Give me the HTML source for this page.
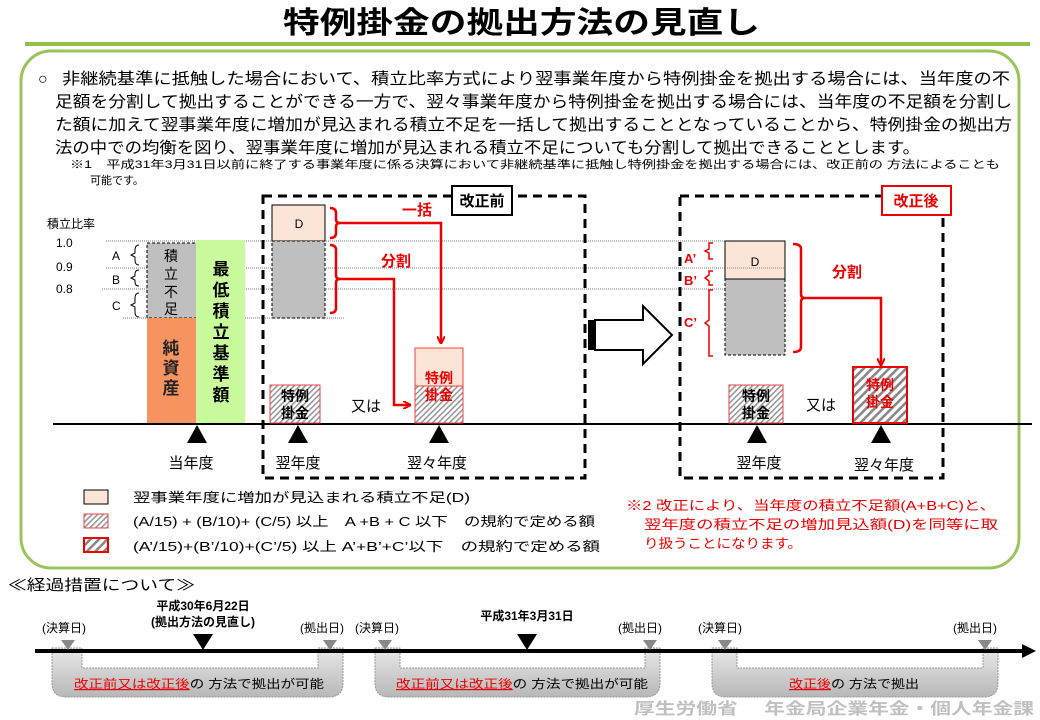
<!DOCTYPE html>
<html><head><meta charset="utf-8"><style>
html,body{margin:0;padding:0;background:#fff}
svg{display:block;font-family:"Liberation Sans","Noto Sans CJK JP",sans-serif}
</style></head><body>
<svg width="1040" height="720" viewBox="0 0 1040 720" xmlns="http://www.w3.org/2000/svg">
<defs>
<pattern id="h1" width="4" height="4" patternUnits="userSpaceOnUse" patternTransform="rotate(45)">
<rect width="4" height="4" fill="#fff"/><rect width="1.6" height="4" fill="#999"/></pattern>
<pattern id="h2" width="6" height="6" patternUnits="userSpaceOnUse" patternTransform="rotate(45)">
<rect width="6" height="6" fill="#fff"/><rect width="2.6" height="6" fill="#888"/></pattern>
<linearGradient id="gg" x1="0" y1="0" x2="0" y2="1"><stop offset="0" stop-color="#e8e8e8"/><stop offset="1" stop-color="#b8b8b8"/></linearGradient>
<marker id="ar" markerWidth="8" markerHeight="8" refX="7" refY="4" orient="auto" markerUnits="userSpaceOnUse"><path d="M0,0 L8,4 L0,8" fill="none" stroke="#e00" stroke-width="2"/></marker>
</defs>

<text x="283" y="33" font-size="30" font-weight="bold" textLength="477" lengthAdjust="spacingAndGlyphs">特例掛金の拠出方法の見直し</text>
<rect x="25" y="42" width="1005" height="4" fill="#92c04a"/>
<rect x="21" y="51" width="998" height="517" rx="30" fill="none" stroke="#9bc35a" stroke-width="3"/>

<g font-size="16">
<text x="38" y="84">○</text>
<text x="62" y="84" textLength="948" lengthAdjust="spacingAndGlyphs">非継続基準に抵触した場合において、積立比率方式により翌事業年度から特例掛金を拠出する場合には、当年度の不</text>
<text x="55" y="107" textLength="957" lengthAdjust="spacingAndGlyphs">足額を分割して拠出することができる一方で、翌々事業年度から特例掛金を拠出する場合には、当年度の不足額を分割し</text>
<text x="55" y="130" textLength="957" lengthAdjust="spacingAndGlyphs">た額に加えて翌事業年度に増加が見込まれる積立不足を一括して拠出することとなっていることから、特例掛金の拠出方</text>
<text x="55" y="153" textLength="865" lengthAdjust="spacingAndGlyphs">法の中での均衡を図り、翌事業年度に増加が見込まれる積立不足についても分割して拠出できることとします。</text>
</g>
<text x="70" y="168" font-size="11" textLength="930" lengthAdjust="spacingAndGlyphs">※1　平成31年3月31日以前に終了する事業年度に係る決算において非継続基準に抵触し特例掛金を拠出する場合には、改正前の 方法によることも</text>
<text x="90" y="184" font-size="11">可能です。</text>

<g stroke="#777" stroke-width="1" stroke-dasharray="1,1">
<line x1="106" y1="241" x2="725" y2="241"/>
<line x1="106" y1="268" x2="725" y2="268"/>
<line x1="102" y1="289" x2="725" y2="289"/>
<line x1="123" y1="318" x2="345" y2="318"/>
</g>

<text x="47" y="228" font-size="12">積立比率</text>
<text x="56" y="247" font-size="12">1.0</text>
<text x="56" y="271" font-size="12">0.9</text>
<text x="56" y="293" font-size="12">0.8</text>
<g font-size="12"><text x="112" y="260">A</text><text x="112" y="284">B</text><text x="112" y="310">C</text></g>
<g fill="none" stroke="#000" stroke-width="1">
<path d="M139,245 q-4,0 -4,5 v3 l-4,2 l4,2 v3 q0,5 4,5"/>
<path d="M139,270 q-4,0 -4,4 v2 l-4,2 l4,2 v2 q0,4 4,4"/>
<path d="M139,293 q-4,0 -4,5 v5 l-4,2 l4,2 v5 q0,5 4,5"/>
</g>

<rect x="147" y="243" width="50" height="75" fill="#bfbfbf" stroke="#000" stroke-dasharray="3,2"/>
<rect x="147" y="318" width="49" height="105" fill="#f79361"/>
<rect x="196" y="240" width="49" height="183" fill="#c9fa9c"/>
<g font-size="14" text-anchor="middle"><text x="171" y="261">積</text><text x="171" y="279">立</text><text x="171" y="297">不</text><text x="171" y="314">足</text></g>
<g font-size="17" font-weight="bold" text-anchor="middle" fill="#222"><text x="171" y="354">純</text><text x="171" y="374">資</text><text x="171" y="394">産</text></g>
<g font-size="17" font-weight="bold" text-anchor="middle"><text x="221" y="275">最</text><text x="221" y="296">低</text><text x="221" y="317">積</text><text x="221" y="338">立</text><text x="221" y="359">基</text><text x="221" y="380">準</text><text x="221" y="401">額</text></g>

<line x1="53" y1="424" x2="1032" y2="424" stroke="#000" stroke-width="2"/>
<g fill="#000">
<path d="M197,425 l-10,18 h20z"/><path d="M298,425 l-10,18 h20z"/><path d="M439,425 l-10,18 h20z"/>
<path d="M757,425 l-10,18 h20z"/><path d="M881,425 l-10,18 h20z"/>
</g>
<g font-size="15" text-anchor="middle"><text x="191" y="468">当年度</text><text x="298" y="468">翌年度</text><text x="437" y="468">翌々年度</text>
<text x="759" y="468">翌年度</text><text x="884" y="470">翌々年度</text></g>

<rect x="263" y="196" width="322" height="282" fill="none" stroke="#000" stroke-width="3" stroke-dasharray="9,6"/>
<rect x="452" y="186" width="60" height="29" fill="#fff" stroke="#000" stroke-width="2"/>
<text x="482" y="206" font-size="15" font-weight="bold" text-anchor="middle">改正前</text>
<rect x="272" y="205" width="53" height="36" fill="#fce4d6" stroke="#000"/>
<text x="299" y="228" font-size="12" text-anchor="middle">D</text>
<rect x="272" y="241" width="53" height="77" fill="#bfbfbf" stroke="#000" stroke-dasharray="3,2"/>
<g fill="none" stroke="#e00" stroke-width="2.5">
<path d="M330,208 q6,0 6,5 v6 q0,4 4,4 q-4,0 -4,4 v6 q0,5 -6,5"/>
<path d="M330,245 q6,0 6,5 v25 q0,4 4,4 q-4,0 -4,4 v25 q0,5 -6,5"/>
<path d="M340,223 H441 V343" marker-end="url(#ar)"/>
<path d="M340,279 H394 V405 H410" marker-end="url(#ar)"/>
</g>
<text x="402" y="215" font-size="15" font-weight="bold" fill="#e00">一括</text>
<text x="381" y="266" font-size="15" font-weight="bold" fill="#e00">分割</text>

<rect x="270" y="385" width="50" height="38" fill="url(#h1)" stroke="#e44"/>
<g font-size="14" font-weight="bold" text-anchor="middle"><text x="295" y="401">特例</text><text x="295" y="418">掛金</text></g>
<text x="366" y="411" font-size="15" text-anchor="middle">又は</text>
<rect x="415" y="348" width="48" height="38" fill="#fce4d6" stroke="#e44"/>
<rect x="415" y="386" width="48" height="37" fill="url(#h1)" stroke="#e44"/>
<g font-size="14" font-weight="bold" text-anchor="middle" fill="#e00"><text x="439" y="383">特例</text><text x="439" y="400">掛金</text></g>

<rect x="588" y="320" width="7" height="30" fill="#000"/>
<path d="M595,320 H643 V306 L672,335 L643,364 V350 H595z" fill="#fff" stroke="#000" stroke-width="2"/>

<rect x="680" y="196" width="263" height="282" fill="none" stroke="#000" stroke-width="3" stroke-dasharray="9,6"/>
<rect x="882" y="186" width="69" height="29" fill="#fff" stroke="#e00" stroke-width="2"/>
<text x="916" y="206" font-size="15" font-weight="bold" text-anchor="middle" fill="#e00">改正後</text>
<rect x="725" y="279" width="60" height="76" fill="#bfbfbf" stroke="#000" stroke-dasharray="3,2"/>
<rect x="725" y="241" width="60" height="38" fill="#fce4d6" stroke="#000"/>
<line x1="725" y1="268" x2="785" y2="268" stroke="#888" stroke-dasharray="1,1"/>
<text x="755" y="266" font-size="12" text-anchor="middle">D</text>
<g font-size="13" fill="#e00" font-weight="bold"><text x="684" y="263">A’</text><text x="684" y="285">B’</text><text x="684" y="327">C’</text></g>
<g fill="none" stroke="#e00" stroke-width="1.5">
<path d="M713,243 h-4 v6 l-4,2 l4,2 v6 h4"/>
<path d="M713,271 h-4 v4 l-4,3 l4,3 v4 h4"/>
<path d="M713,290 h-4 v30 l-4,3 l4,3 v30 h4"/>
</g>
<g fill="none" stroke="#e00" stroke-width="2.5">
<path d="M793,244 q8,0 8,5 v45 q0,4 4,4 q-4,0 -4,4 v45 q0,5 -8,5"/>
<path d="M805,298 H881 V365" marker-end="url(#ar)"/>
</g>
<text x="832" y="277" font-size="15" font-weight="bold" fill="#e00">分割</text>
<rect x="729" y="385" width="54" height="38" fill="url(#h1)" stroke="#e44"/>
<g font-size="14" font-weight="bold" text-anchor="middle"><text x="756" y="401">特例</text><text x="756" y="418">掛金</text></g>
<text x="821" y="410" font-size="15" text-anchor="middle">又は</text>
<rect x="853" y="367" width="54" height="56" fill="url(#h2)" stroke="#e00" stroke-width="2"/>
<g font-size="14" font-weight="bold" text-anchor="middle" fill="#e00"><text x="880" y="390">特例</text><text x="880" y="407">掛金</text></g>

<rect x="84" y="490" width="24" height="14" fill="#fce4d6" stroke="#000"/>
<rect x="84" y="514" width="24" height="14" fill="url(#h1)" stroke="#e44"/>
<rect x="84" y="538" width="24" height="14" fill="url(#h2)" stroke="#e00" stroke-width="2"/>
<g font-size="13"><text x="133" y="502" textLength="337" lengthAdjust="spacingAndGlyphs">翌事業年度に増加が見込まれる積立不足(D)</text>
<text x="133" y="526" textLength="462" lengthAdjust="spacingAndGlyphs">(A/15) + (B/10)+ (C/5) 以上　A +B + C  以下　の規約で定める額</text>
<text x="133" y="551" textLength="467" lengthAdjust="spacingAndGlyphs">(A’/15)+(B’/10)+(C’/5) 以上  A’+B’+C’以下　の規約で定める額</text></g>
<g font-size="13" fill="#e00"><text x="626" y="510" textLength="370" lengthAdjust="spacingAndGlyphs">※2  改正により、当年度の積立不足額(A+B+C)と、</text>
<text x="644" y="529" textLength="354" lengthAdjust="spacingAndGlyphs">翌年度の積立不足の増加見込額(D)を同等に取</text>
<text x="644" y="548" textLength="158" lengthAdjust="spacingAndGlyphs">り扱うことになります。</text></g>

<text x="8" y="590" font-size="15" textLength="187" lengthAdjust="spacingAndGlyphs">≪経過措置について≫</text>
<g fill="url(#gg)" stroke="#999" stroke-dasharray="2,1">
<path d="M52,648 H82 V668 H318 V648 H343 V683 q0,14 -14,14 H66 q-14,0 -14,-14z"/>
<path d="M375,648 H400 V668 H645 V648 H660 V683 q0,14 -14,14 H389 q-14,0 -14,-14z"/>
<path d="M712,648 H737 V668 H983 V648 H998 V683 q0,14 -14,14 H726 q-14,0 -14,-14z"/>
</g>
<line x1="35" y1="651" x2="1025" y2="651" stroke="#000" stroke-width="4"/>
<path d="M1022,644 L1036,651 L1022,658z" fill="#000"/>
<g fill="#888">
<path d="M61,640 h14 l-7,10z"/><path d="M323,640 h14 l-7,10z"/><path d="M378,640 h14 l-7,10z"/>
<path d="M643,640 h14 l-7,10z"/><path d="M718,640 h14 l-7,10z"/><path d="M978,640 h14 l-7,10z"/>
</g>
<path d="M193,634 h20 l-10,16z" fill="#000"/><path d="M517,634 h20 l-10,16z" fill="#000"/>
<g font-size="12"><text x="42" y="632">(決算日)</text><text x="300" y="632">(拠出日)</text><text x="355" y="632">(決算日)</text>
<text x="618" y="632">(拠出日)</text><text x="698" y="632">(決算日)</text><text x="953" y="632">(拠出日)</text></g>
<g font-size="12" font-weight="bold" text-anchor="middle"><text x="203" y="610">平成30年6月22日</text><text x="203" y="626">(拠出方法の見直し)</text><text x="527" y="620">平成31年3月31日</text></g>
<g font-size="12">
<text x="74" y="688" textLength="250" lengthAdjust="spacingAndGlyphs"><tspan fill="#e00" text-decoration="underline">改正前又は改正後</tspan>の 方法で拠出が可能</text>
<text x="396" y="688" textLength="252" lengthAdjust="spacingAndGlyphs"><tspan fill="#e00" text-decoration="underline">改正前又は改正後</tspan>の 方法で拠出が可能</text>
<text x="789" y="688" textLength="130" lengthAdjust="spacingAndGlyphs"><tspan fill="#e00" text-decoration="underline">改正後</tspan>の 方法で拠出</text>
</g>
<text x="634" y="714" font-size="16" font-weight="bold" fill="#c0c0c0" textLength="400" lengthAdjust="spacingAndGlyphs">厚生労働省　 年金局企業年金・個人年金課</text>
</svg>
</body></html>
